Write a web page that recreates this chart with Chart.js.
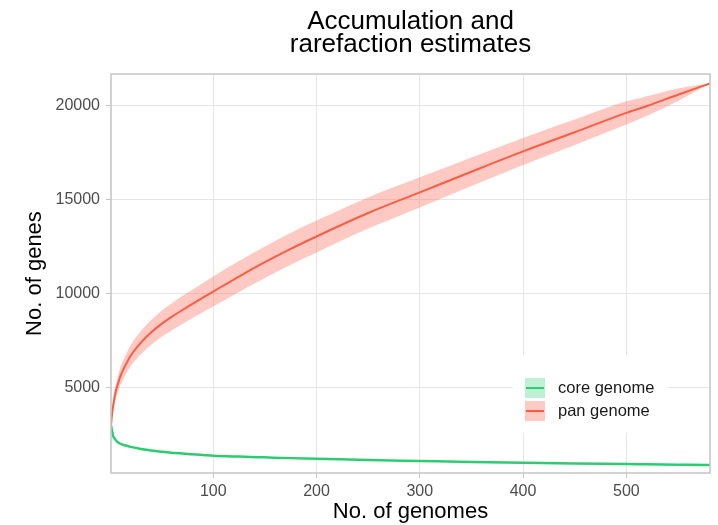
<!DOCTYPE html>
<html lang="en">
<head>
    <meta charset="UTF-8">
    <title>Accumulation and rarefaction estimates</title>
    <script src="https://cdn.jsdelivr.net/npm/chart.js"></script>
    <style>
        body {
            margin: 0;
            background-color: #fff;
        }
        #chart-container {
            width: 718px;
            height: 525px;
        }
    </style>
</head>
<body>
    <div id="chart-container">
        <canvas id="curveChart"></canvas>
    </div>

    <script>
        // number of genomes sampled
        const genomes = [1, 2, 3, 5, 8, 10, 15, 20, 30, 40, 50, 60, 75, 90, 100, 125, 150, 175, 200, 250, 300, 350, 400, 450, 500, 520, 550, 581];

        // pan genome (mean and ribbon)
        const panMean  = [3000, 3600, 4000, 4650, 5250, 5600, 6200, 6700, 7400, 7950, 8400, 8780, 9300, 9800, 10120, 10920, 11680, 12390, 13050, 14300, 15400, 16500, 17580, 18600, 19630, 20000, 20600, 21200];
        const panLower = [2850, 3350, 3700, 4270, 4810, 5130, 5680, 6140, 6780, 7290, 7700, 8060, 8550, 9020, 9320, 10100, 10840, 11540, 12200, 13470, 14600, 15740, 16860, 17920, 19010, 19480, 20270, 21200];
        const panUpper = [3150, 3850, 4300, 5030, 5690, 6070, 6720, 7260, 8020, 8610, 9100, 9500, 10050, 10580, 10920, 11740, 12520, 13240, 13900, 15130, 16200, 17260, 18300, 19280, 20250, 20520, 20930, 21200];

        // core genome (mean and ribbon)
        const coreMean  = [3000, 2700, 2450, 2250, 2080, 2020, 1920, 1850, 1740, 1660, 1590, 1540, 1470, 1420, 1380, 1330, 1290, 1250, 1220, 1150, 1100, 1050, 1005, 965, 935, 920, 900, 880];
        const coreLower = [2900, 2620, 2380, 2190, 2030, 1970, 1875, 1805, 1700, 1620, 1555, 1505, 1440, 1390, 1350, 1300, 1265, 1225, 1195, 1125, 1075, 1030, 985, 945, 915, 900, 885, 880];
        const coreUpper = [3100, 2780, 2520, 2310, 2130, 2070, 1965, 1895, 1780, 1700, 1625, 1575, 1500, 1450, 1410, 1360, 1315, 1275, 1245, 1175, 1125, 1070, 1025, 985, 955, 940, 915, 880];

        const xTicks = [100, 200, 300, 400, 500];
        const yTicks = [5000, 10000, 15000, 20000];

        const seriesNames = ['core genome', 'pan genome'];
        const lineColors = ['#2ecc71', '#fa5a3c'];
        const bandColors = ['rgba(46, 204, 113, 0.3)', 'rgba(250, 100, 80, 0.35)'];

        const fontFamily = "'Liberation Sans', Arial, sans-serif";
        const frameColor = '#c4c4c4';

        function toPoints(values) {
            return genomes.map((g, i) => ({ x: g, y: values[i] }));
        }

        function band(values, color, fill) {
            return {
                data: toPoints(values),
                borderWidth: 0,
                pointRadius: 0,
                backgroundColor: color,
                fill: fill,
                cubicInterpolationMode: 'monotone'
            };
        }

        function line(values, color, width) {
            return {
                data: toPoints(values),
                borderColor: color,
                borderWidth: width,
                pointRadius: 0,
                fill: false,
                cubicInterpolationMode: 'monotone'
            };
        }

        // panel border + legend drawn inside the panel
        const panelDecor = {
            id: 'panelDecor',
            afterDraw(chart) {
                const { ctx, chartArea: a } = chart;
                ctx.save();

                // legend
                const lx = a.left + 402;
                const ly = a.top + 281;
                ctx.fillStyle = '#fff';
                ctx.fillRect(lx, ly, 155, 78);
                ctx.font = '16.5px ' + fontFamily;
                ctx.textBaseline = 'middle';
                ctx.textAlign = 'left';
                seriesNames.forEach((name, i) => {
                    const ky = ly + 23 + i * 23;
                    ctx.fillStyle = bandColors[i];
                    ctx.fillRect(lx + 12, ky, 20, 20);
                    ctx.strokeStyle = lineColors[i];
                    ctx.lineWidth = 2;
                    ctx.beginPath();
                    ctx.moveTo(lx + 13, ky + 10);
                    ctx.lineTo(lx + 31, ky + 10);
                    ctx.stroke();
                    ctx.fillStyle = '#1a1a1a';
                    ctx.fillText(name, lx + 45, ky + 10.5);
                });

                // panel border
                ctx.strokeStyle = frameColor;
                ctx.lineWidth = 1.5;
                ctx.strokeRect(a.left, a.top, a.right - a.left, a.bottom - a.top);
                ctx.restore();
            }
        };

        const ctx = document.getElementById('curveChart').getContext('2d');
        new Chart(ctx, {
            type: 'line',
            data: {
                datasets: [
                    band(panUpper, bandColors[1], '+1'),
                    band(panLower, bandColors[1], false),
                    band(coreUpper, bandColors[0], '+1'),
                    band(coreLower, bandColors[0], false),
                    line(coreMean, lineColors[0], 2.5),
                    line(panMean, lineColors[1], 2)
                ]
            },
            options: {
                responsive: true,
                maintainAspectRatio: false,
                animation: false,
                layout: {
                    padding: { left: 0, right: 8, top: 0, bottom: 0 }
                },
                scales: {
                    x: {
                        type: 'linear',
                        min: 1,
                        max: 581,
                        afterBuildTicks: (scale) => {
                            scale.ticks = xTicks.map(v => ({ value: v }));
                        },
                        afterFit: (scale) => { scale.height = 52; },
                        border: { display: false },
                        grid: { color: '#e6e6e6', tickColor: frameColor, tickLength: 5 },
                        ticks: {
                            color: '#4d4d4d',
                            padding: 4,
                            maxRotation: 0,
                            callback: (v) => String(v),
                            font: { family: fontFamily, size: 16 }
                        },
                        title: {
                            display: true,
                            text: 'No. of genomes',
                            color: '#000',
                            padding: { top: 0, bottom: 0 },
                            font: { family: fontFamily, size: 22 }
                        }
                    },
                    y: {
                        min: 458,
                        max: 21700,
                        afterBuildTicks: (scale) => {
                            scale.ticks = yTicks.map(v => ({ value: v }));
                        },
                        afterFit: (scale) => { scale.width = 111; },
                        border: { display: false },
                        grid: { color: '#e6e6e6', tickColor: frameColor, tickLength: 5 },
                        ticks: {
                            color: '#4d4d4d',
                            padding: 6,
                            callback: (v) => String(v),
                            font: { family: fontFamily, size: 16 }
                        },
                        title: {
                            display: true,
                            text: 'No. of genes',
                            color: '#000',
                            padding: { top: 22, bottom: 0 },
                            font: { family: fontFamily, size: 22 }
                        }
                    }
                },
                plugins: {
                    legend: { display: false },
                    tooltip: { enabled: false },
                    title: {
                        display: true,
                        fullSize: false,
                        text: ['Accumulation and', 'rarefaction estimates'],
                        color: '#000',
                        padding: { top: 10.4, bottom: 18.4 },
                        font: { family: fontFamily, size: 26, weight: 'normal', lineHeight: 0.87 }
                    }
                }
            },
            plugins: [panelDecor]
        });
    </script>
</body>
</html>
